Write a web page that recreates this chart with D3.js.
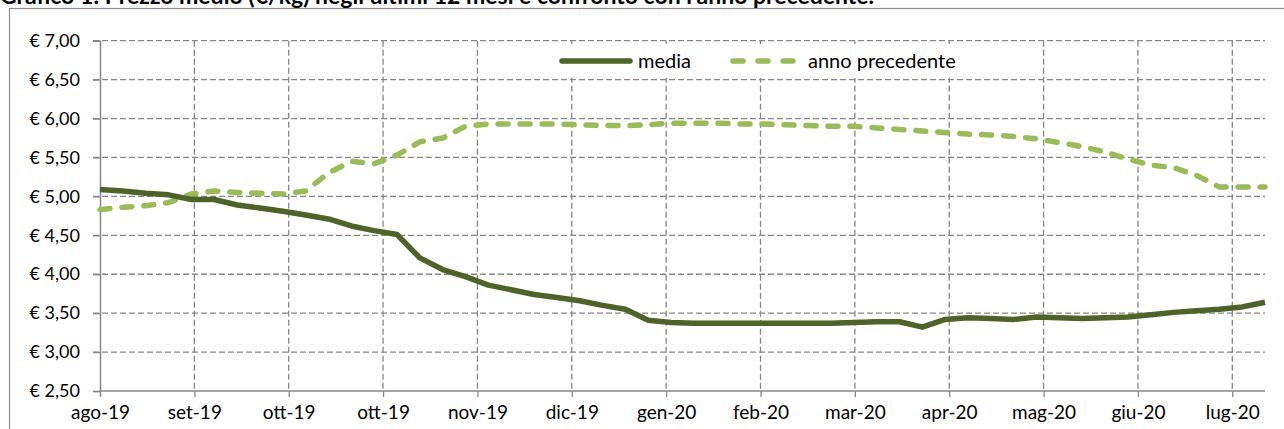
<!DOCTYPE html>
<html>
<head>
<meta charset="utf-8">
<script src="https://cdn.jsdelivr.net/npm/d3@7"></script>
<style>
  body { margin: 0; background: #fff; overflow: hidden; }
  text { font-family: Lato, "Liberation Sans", sans-serif; fill: #000; }
</style>
</head>
<body>
<div id="main_svg"></div>
<script>
// month labels under the x axis (two "ott-19" as in the original)
var monthLabels = ["ago-19", "set-19", "ott-19", "ott-19", "nov-19", "dic-19", "gen-20",
    "feb-20", "mar-20", "apr-20", "mag-20", "giu-20", "lug-20"];

// weekly average price, last 12 months
var media = [5.09, 5.07, 5.04, 5.02, 4.96, 4.96, 4.89, 4.85, 4.81, 4.76,
    4.71, 4.62, 4.56, 4.51, 4.21, 4.06, 3.97, 3.86, 3.80, 3.74,
    3.70, 3.66, 3.60, 3.55, 3.41, 3.38, 3.37, 3.37, 3.37, 3.37,
    3.37, 3.37, 3.37, 3.38, 3.39, 3.39, 3.32, 3.42, 3.44, 3.43,
    3.42, 3.45, 3.44, 3.43, 3.44, 3.45, 3.48, 3.51, 3.53, 3.55,
    3.58, 3.64];

// same weeks, previous year
var annoPrecedente = [4.83, 4.86, 4.88, 4.92, 5.03, 5.07, 5.05, 5.04, 5.03, 5.07,
    5.30, 5.45, 5.42, 5.53, 5.70, 5.75, 5.90, 5.93, 5.93, 5.93,
    5.93, 5.92, 5.91, 5.91, 5.92, 5.94, 5.94, 5.94, 5.93, 5.93,
    5.92, 5.91, 5.90, 5.90, 5.88, 5.86, 5.84, 5.82, 5.80, 5.79,
    5.77, 5.74, 5.69, 5.64, 5.57, 5.48, 5.40, 5.37, 5.27, 5.12,
    5.12, 5.12];

var yTicks = [2.5, 3, 3.5, 4, 4.5, 5, 5.5, 6, 6.5, 7];

var titleText = "Grafico 1: Prezzo medio (€/kg) negli ultimi 12 mesi e confronto con l'anno precedente.";

var darkGreen = "#4f6228", lightGreen = "#9bbb59", gridGrey = "#878787";

// dimensions of the plot area
var margin = {top: 40.7, left: 100},
    width = 1165,
    height = 350.3,
    tickSpan = 1132.3;   // distance from first to last month tick

var svg = d3.select("#main_svg").append("svg")
    .attr("width", 1284)
    .attr("height", 429);

// outer chart frame (cut by the picture edge)
svg.append("rect")
    .attr("x", 9.5).attr("y", 8.5)
    .attr("width", 1300).attr("height", 440)
    .attr("fill", "none")
    .attr("stroke", "#8c8c8c")
    .attr("stroke-width", 1.2);

// title, only its lower part is visible (as in the source)
svg.append("text")
    .attr("x", 0).attr("y", 4)
    .style("font-size", "23px")
    .style("font-weight", "bold")
    .text(titleText);

var g = svg.append("g")
    .attr("transform", "translate(" + margin.left + "," + margin.top + ")");

// scales
var x = d3.scalePoint()
    .domain(d3.range(media.length))
    .range([0, width]);
var xMonth = d3.scalePoint()
    .domain(d3.range(monthLabels.length))
    .range([0, tickSpan]);
var y = d3.scaleLinear()
    .domain([2.5, 7])
    .range([height, 0]);

// horizontal grid
g.selectAll(".hgrid")
    .data(yTicks.slice(1))
    .enter().append("line")
    .attr("class", "hgrid")
    .attr("x1", -7).attr("x2", width)
    .attr("y1", function (d) { return y(d); })
    .attr("y2", function (d) { return y(d); })
    .attr("stroke", gridGrey)
    .attr("stroke-width", 1.3)
    .attr("stroke-dasharray", "6,3");

// vertical grid
g.selectAll(".vgrid")
    .data(d3.range(1, monthLabels.length))
    .enter().append("line")
    .attr("class", "vgrid")
    .attr("x1", function (d) { return xMonth(d); })
    .attr("x2", function (d) { return xMonth(d); })
    .attr("y1", 0).attr("y2", height)
    .attr("stroke", gridGrey)
    .attr("stroke-width", 1.3)
    .attr("stroke-dasharray", "6,3");

// y axis
var yAxis = g.append("g")
    .call(d3.axisLeft(y).tickValues(yTicks).tickSize(7).tickPadding(13)
        .tickFormat(function (d) { return "€ " + d3.format(".2f")(d).replace(".", ","); }));
yAxis.select(".domain").attr("stroke", gridGrey).attr("stroke-width", 1.5);
yAxis.selectAll(".tick line").attr("stroke", gridGrey).attr("stroke-width", 1.3);
yAxis.selectAll("text")
    .style("font-family", "Lato, sans-serif")
    .style("font-size", "18px")
    .attr("fill", "#000");

// x axis
var xAxis = g.append("g")
    .attr("transform", "translate(0," + height + ")")
    .call(d3.axisBottom(xMonth).tickSize(6).tickPadding(9)
        .tickFormat(function (d) { return monthLabels[d]; }));
xAxis.select(".domain").attr("d", "M0,0H" + width).attr("stroke", gridGrey).attr("stroke-width", 1.5);
xAxis.selectAll(".tick line").attr("stroke", gridGrey).attr("stroke-width", 1.3);
xAxis.selectAll("text")
    .style("font-family", "Lato, sans-serif")
    .style("font-size", "19px")
    .attr("fill", "#000");

// lines
var line = d3.line()
    .x(function (d, i) { return x(i); })
    .y(function (d) { return y(d); });

g.append("path")
    .datum(annoPrecedente)
    .attr("d", line)
    .attr("fill", "none")
    .attr("stroke", lightGreen)
    .attr("stroke-width", 5.5)
    .attr("stroke-linecap", "round")
    .attr("stroke-dasharray", "10,12");

g.append("path")
    .datum(media)
    .attr("d", line)
    .attr("fill", "none")
    .attr("stroke", darkGreen)
    .attr("stroke-width", 5.5)
    .attr("stroke-linejoin", "round");

// legend
var legend = svg.append("g");
legend.append("rect")
    .attr("x", 517).attr("y", 44)
    .attr("width", 470).attr("height", 34)
    .attr("fill", "#fff");
legend.append("line")
    .attr("x1", 562).attr("x2", 630)
    .attr("y1", 61).attr("y2", 61)
    .attr("stroke", darkGreen)
    .attr("stroke-width", 5.5)
    .attr("stroke-linecap", "round");
legend.append("text")
    .attr("x", 638).attr("y", 61).attr("dy", "0.35em")
    .style("font-size", "20px")
    .text("media");
legend.append("line")
    .attr("x1", 733).attr("x2", 793)
    .attr("y1", 61).attr("y2", 61)
    .attr("stroke", lightGreen)
    .attr("stroke-width", 5.5)
    .attr("stroke-linecap", "round")
    .attr("stroke-dasharray", "10,15");
legend.append("text")
    .attr("x", 808).attr("y", 61).attr("dy", "0.35em")
    .style("font-size", "20px")
    .text("anno precedente");
</script>
</body>
</html>
